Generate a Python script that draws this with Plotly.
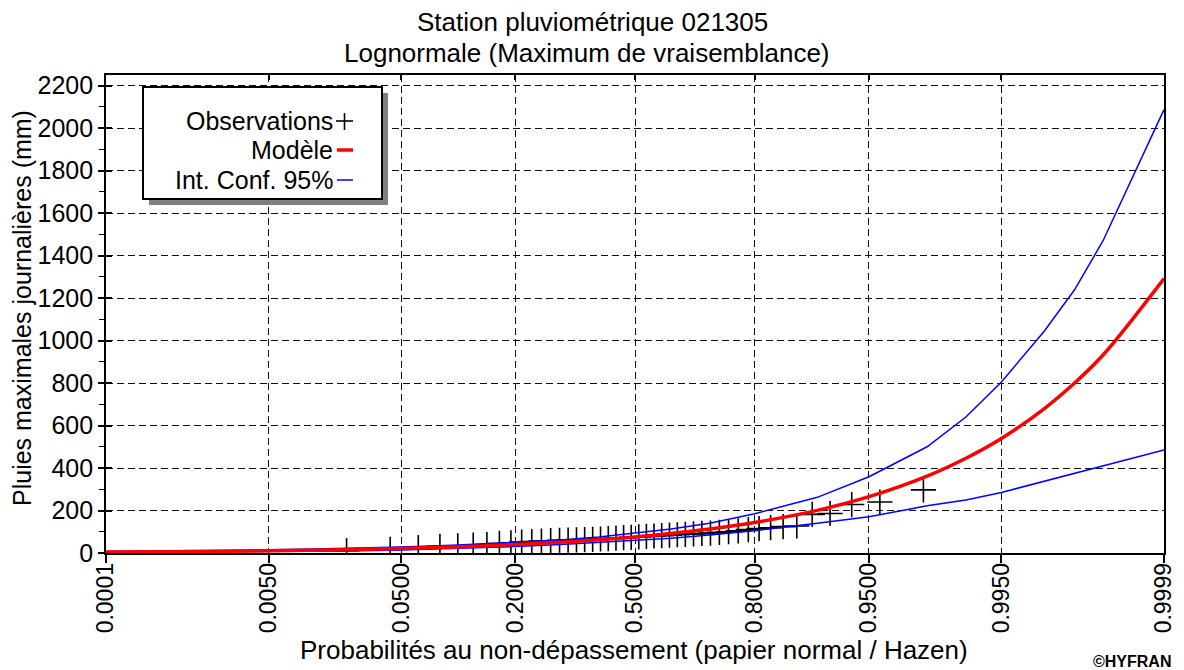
import plotly.graph_objects as go
from statistics import NormalDist

# ---------------- data ----------------
obs_prob = [0.0213, 0.0426, 0.0638, 0.0851, 0.1064, 0.1277, 0.1489, 0.1702, 0.1915, 0.2128,
            0.2340, 0.2553, 0.2766, 0.2979, 0.3191, 0.3404, 0.3617, 0.3830, 0.4043, 0.4255,
            0.4468, 0.4681, 0.4894, 0.5106, 0.5319, 0.5532, 0.5745, 0.5957, 0.6170, 0.6383,
            0.6596, 0.6809, 0.7021, 0.7234, 0.7447, 0.7660, 0.7872, 0.8085, 0.8298, 0.8511,
            0.8723, 0.8936, 0.9149, 0.9362, 0.9574, 0.9787]
obs_mm = [11, 17, 26, 31, 34, 37, 40, 45, 48, 51,
          54, 56, 58, 60, 61, 62, 63, 64, 66, 68,
          70, 72, 74, 76, 78, 80, 82, 84, 86, 88,
          90, 92, 94, 97, 100, 104, 110, 115, 119, 124,
          127, 182, 186, 228, 240, 297]

curve_prob = [0.0001, 0.0005, 0.001, 0.002, 0.005, 0.01, 0.02, 0.05, 0.1, 0.2, 0.3, 0.4, 0.5,
              0.6, 0.7, 0.8, 0.9, 0.95, 0.98, 0.99, 0.995, 0.998, 0.999, 0.9995, 0.9999]
model_mm = [4.4, 6.1, 7.1, 8.4, 10.5, 12.8, 15.7, 21.5, 28.3, 39.7, 50.5, 62.2, 75.4,
            91.5, 112.6, 143.4, 200.7, 265, 362, 446, 539, 680, 800, 932, 1292]
upper_mm = [7.0, 9.2, 10.5, 12.2, 15.0, 17.8, 21.4, 28.3, 36.2, 49.0, 61.3, 74.8, 94,
            113, 140, 185, 262, 359, 500, 640, 805, 1045, 1239, 1470, 2087]
lower_mm = [1.8, 3.0, 3.7, 4.6, 6.0, 7.8, 10.0, 14.7, 20.4, 30.4, 39.7, 49.6, 61,
            70, 85, 105, 140, 171, 222, 250, 285, 338, 375, 410, 485]

tick_prob = [0.0001, 0.005, 0.05, 0.2, 0.5, 0.8, 0.95, 0.995, 0.9999]
tick_text = ["0.0001", "0.0050", "0.0500", "0.2000", "0.5000", "0.8000", "0.9500", "0.9950", "0.9999"]

title_1 = "Station pluviométrique 021305"
title_2 = "Lognormale (Maximum de vraisemblance)"
x_title = "Probabilités au non-dépassement (papier normal / Hazen)"
y_title = "Pluies maximales journalières (mm)"
legend_labels = ["Observations", "Modèle", "Int. Conf. 95%"]

# ---------------- helpers ----------------
nd = NormalDist()


def zq(ps):
    return [nd.inv_cdf(p) for p in ps]


W, H = 1184, 670
L, R, T, B = 106, 1164, 75, 553


def px(x):
    return (x - L) / (R - L)


def py(y):
    return (B - y) / (B - T)


FONT = "Liberation Sans, Arial, sans-serif"
xr = [nd.inv_cdf(0.0001), nd.inv_cdf(0.9999)]
yr = [0, 2250]

fig = go.Figure()
fig.add_trace(go.Scatter(x=zq(obs_prob), y=obs_mm, mode="markers",
                         marker=dict(symbol="cross-thin", size=18, color="black",
                                     line=dict(color="black", width=1.6)),
                         showlegend=False, cliponaxis=True))
fig.add_trace(go.Scatter(x=zq(curve_prob), y=upper_mm, mode="lines",
                         line=dict(color="#0000ff", width=1.5), showlegend=False))
fig.add_trace(go.Scatter(x=zq(curve_prob), y=lower_mm, mode="lines",
                         line=dict(color="#0000ff", width=1.5), showlegend=False))
fig.add_trace(go.Scatter(x=zq(curve_prob), y=model_mm, mode="lines",
                         line=dict(color="#ff0000", width=3.5, shape="spline"), showlegend=False))
# empty trace so the overlay (tick-only) axes are drawn
fig.add_trace(go.Scatter(x=[None], y=[None], xaxis="x2", yaxis="y2", mode="markers",
                         showlegend=False, hoverinfo="skip"))

grid = dict(showgrid=True, gridcolor="#111111", gridwidth=1.4, griddash="7px,4px")

fig.update_layout(
    width=W, height=H,
    margin=dict(l=L, r=W - R, t=T, b=H - B, pad=0, autoexpand=False),
    paper_bgcolor="white", plot_bgcolor="white",
    font=dict(family=FONT, size=25, color="black"),
    showlegend=False,
    xaxis=dict(range=xr, tickmode="array", tickvals=zq(tick_prob), ticktext=tick_text,
               tickangle=-90, ticks="outside", ticklen=8, tickwidth=1.5, tickcolor="black",
               ticklabelstandoff=-9, automargin=False,
               showline=True, linecolor="black", linewidth=1.6, mirror=True,
               zeroline=False, tickfont=dict(size=23), **grid),
    xaxis2=dict(range=xr, overlaying="x", side="top", anchor="y", tickmode="array",
                tickvals=zq(tick_prob), ticks="inside", ticklen=5, tickwidth=1.5,
                tickcolor="black", showticklabels=False, showgrid=False, showline=False,
                zeroline=False, automargin=False),
    yaxis=dict(range=yr, tickmode="linear", tick0=0, dtick=200, ticks="outside", ticklen=6,
               tickwidth=1.5, tickcolor="black", showline=True, linecolor="black",
               linewidth=1.6, mirror=True, zeroline=False, tickfont=dict(size=25),
               automargin=False,
               minor=dict(dtick=100, tick0=0, ticks="outside", ticklen=5, tickwidth=1.3,
                          tickcolor="black", showgrid=False),
               **grid),
    yaxis2=dict(range=yr, overlaying="y", side="left", anchor="x", tickmode="linear",
                tick0=0, dtick=200, ticks="inside", ticklen=6, tickwidth=1.5,
                tickcolor="black", showticklabels=False, showgrid=False, showline=False,
                zeroline=False, automargin=False),
)

annotations = [
    dict(text=title_1, x=px(592), y=py(22), xref="paper", yref="paper",
         xanchor="center", yanchor="middle", showarrow=False, font=dict(size=26)),
    dict(text=title_2, x=px(587), y=py(53), xref="paper", yref="paper",
         xanchor="center", yanchor="middle", showarrow=False, font=dict(size=26)),
    dict(text=x_title, x=px(634), y=py(650), xref="paper", yref="paper",
         xanchor="center", yanchor="middle", showarrow=False, font=dict(size=26)),
    dict(text=y_title, x=px(22), y=py(308), xref="paper", yref="paper", textangle=-90,
         xanchor="center", yanchor="middle", showarrow=False, font=dict(size=25)),
    dict(text="<b>©HYFRAN</b>", x=px(1173), y=py(661), xref="paper", yref="paper",
         xanchor="right", yanchor="middle", showarrow=False, font=dict(size=16)),
]
for lab, yy in zip(legend_labels, [121, 150, 180]):
    annotations.append(dict(text=lab, x=px(335), y=py(yy), xref="paper", yref="paper",
                            xanchor="right", yanchor="middle", showarrow=False,
                            font=dict(size=25)))
fig.update_layout(annotations=annotations)

shapes = [
    dict(type="rect", xref="paper", yref="paper", x0=px(149), x1=px(388), y0=py(93), y1=py(205),
         fillcolor="#808080", line=dict(width=0)),
    dict(type="rect", xref="paper", yref="paper", x0=px(143), x1=px(382), y0=py(87), y1=py(199),
         fillcolor="white", line=dict(color="black", width=2)),
    dict(type="line", xref="paper", yref="paper", x0=px(336), x1=px(353), y0=py(121), y1=py(121),
         line=dict(color="black", width=1.6)),
    dict(type="line", xref="paper", yref="paper", x0=px(344.5), x1=px(344.5), y0=py(113), y1=py(130),
         line=dict(color="black", width=1.6)),
    dict(type="line", xref="paper", yref="paper", x0=px(337), x1=px(353), y0=py(150), y1=py(150),
         line=dict(color="#ff0000", width=3.5)),
    dict(type="line", xref="paper", yref="paper", x0=px(337), x1=px(353), y0=py(180), y1=py(180),
         line=dict(color="#0000ff", width=1.5)),
]
fig.update_layout(shapes=shapes)

fig.write_html("out.html")
